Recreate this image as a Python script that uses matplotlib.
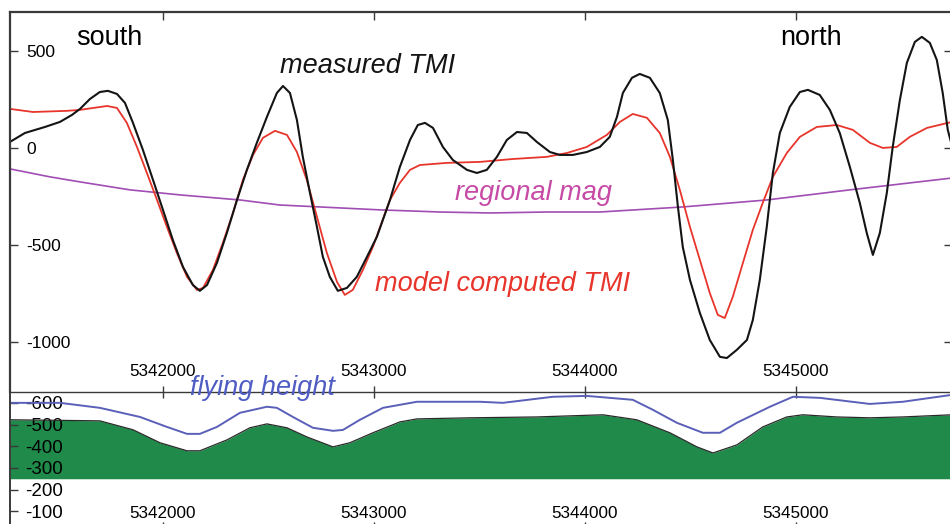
import matplotlib.pyplot as plt

plt.rcParams["font.family"] = ["Liberation Sans", "DejaVu Sans"]

# Northing (m) and total magnetic intensity (nT) along the profile
tmi_northing = [
    5341275, 5341346, 5341441, 5341512, 5341569, 5341607, 5341654, 5341701,
    5341739, 5341782, 5341820, 5341858, 5341905, 5341953, 5342000, 5342047,
    5342095, 5342142, 5342175, 5342209, 5342256, 5342303, 5342351, 5342398,
    5342445, 5342493, 5342540, 5342569, 5342602, 5342635, 5342663, 5342697,
    5342730, 5342758, 5342791, 5342829, 5342872, 5342919, 5342967, 5343014,
    5343076, 5343123, 5343171, 5343208, 5343242, 5343280, 5343327, 5343374,
    5343441, 5343488, 5343535, 5343583, 5343630, 5343678, 5343725, 5343772,
    5343834, 5343881, 5343943, 5344009, 5344071, 5344118, 5344152, 5344180,
    5344223, 5344260, 5344308, 5344355, 5344393, 5344417, 5344441, 5344464,
    5344498, 5344545, 5344592, 5344640, 5344673, 5344720, 5344768, 5344796,
    5344829, 5344862, 5344891, 5344924, 5344971, 5345019, 5345057, 5345113,
    5345161, 5345208, 5345256, 5345303, 5345336, 5345365, 5345398, 5345431,
    5345459, 5345493, 5345526, 5345564, 5345597, 5345635, 5345668, 5345696,
    5345720, 5345740,
]
tmi_measured = [
    31, 77, 108, 134, 170, 201, 252, 288,
    294, 278, 232, 129, -10, -165, -319, -474,
    -613, -706, -736, -706, -592, -438, -268, -113,
    26, 160, 283, 319, 283, 144, -46, -232,
    -407, -561, -664, -736, -721, -664, -561, -458,
    -268, -98, 41, 118, 129, 103, 5, -62,
    -113, -129, -113, -46, 41, 82, 77, 31,
    -21, -36, -36, -21, 5, 57, 160, 283,
    361, 381, 361, 283, 144, -62, -304, -510,
    -680, -850, -989, -1076, -1082, -1040, -989, -886,
    -680, -407, -129, 77, 211, 288, 299, 273,
    196, 77, -98, -283, -438, -551, -438, -232,
    5, 247, 438, 546, 572, 541, 453, 283,
    93, 10,
]

model_northing = [
    5341275, 5341384, 5341545, 5341607, 5341735, 5341782, 5341829, 5341877,
    5341924, 5341972, 5342019, 5342066, 5342114, 5342161, 5342190, 5342237,
    5342284, 5342332, 5342379, 5342427, 5342474, 5342531, 5342588, 5342635,
    5342682, 5342730, 5342777, 5342825, 5342862, 5342900, 5342948, 5342995,
    5343076, 5343123, 5343171, 5343218, 5343346, 5343502, 5343659, 5343820,
    5343915, 5344009, 5344104, 5344166, 5344227, 5344294, 5344355, 5344403,
    5344450, 5344498, 5344545, 5344592, 5344630, 5344663, 5344701, 5344749,
    5344796, 5344843, 5344891, 5344957, 5345019, 5345099, 5345194, 5345270,
    5345351, 5345412, 5345478, 5345540, 5345621, 5345740,
]
tmi_model = [
    201, 185, 191, 196, 216, 206, 129, 5,
    -129, -268, -407, -541, -664, -731, -721, -628,
    -489, -335, -165, -36, 52, 88, 67, -21,
    -165, -355, -541, -690, -757, -731, -628, -510,
    -268, -180, -113, -88, -77, -72, -57, -46,
    -26, 5, 67, 134, 175, 155, 77, -46,
    -216, -407, -577, -747, -860, -876, -767, -592,
    -422, -283, -149, -26, 57, 108, 118, 93,
    26, 0, 5, 57, 103, 134,
]

regional_northing = [
    5341275, 5341464, 5341607, 5341844, 5342081, 5342365, 5342554, 5342839,
    5343028, 5343313, 5343550, 5343820, 5344071, 5344464, 5344862, 5345256,
    5345740,
]
regional_mag = [
    -108, -149, -175, -216, -242, -268, -294, -309,
    -319, -330, -335, -330, -330, -304, -268, -216,
    -155,
]

# Flight path and ground surface (m)
flight_northing = [
    5341275, 5341512, 5341701, 5341891, 5342019, 5342114, 5342175, 5342256,
    5342365, 5342493, 5342540, 5342616, 5342711, 5342806, 5342853, 5342934,
    5343043, 5343204, 5343502, 5343611, 5343848, 5344009, 5344227, 5344322,
    5344436, 5344559, 5344640, 5344720, 5344877, 5344986, 5345114, 5345350,
    5345507, 5345740,
]
flying_height = [
    -600, -600, -577, -535, -489, -457, -457, -489,
    -554, -582, -577, -535, -485, -471, -475, -522,
    -577, -605, -605, -600, -628, -632, -614, -568,
    -508, -462, -462, -508, -582, -628, -623, -595,
    -605, -637,
]

ground_northing = [
    5341275, 5341701, 5341858, 5341986, 5342114, 5342175, 5342303, 5342412,
    5342493, 5342588, 5342682, 5342806, 5342886, 5342995, 5343123, 5343204,
    5343455, 5343772, 5344085, 5344246, 5344403, 5344531, 5344607, 5344720,
    5344843, 5344957, 5345033, 5345194, 5345350, 5345507, 5345740,
]
ground = [
    -522, -517, -476, -416, -379, -379, -429, -485,
    -503, -485, -443, -397, -416, -462, -512, -526,
    -531, -535, -545, -522, -462, -397, -369, -406,
    -489, -535, -545, -535, -531, -535, -545,
]
model_base = -250

tick_northing = [5342000, 5343000, 5344000, 5345000]
tmi_ticks = [500, 0, -500, -1000]
height_ticks = [-600, -500, -400, -300, -200, -100]

x_range = (5341275, 5345740)
spine_color = "#3a3a3a"
line_kw = dict(solid_joinstyle="round", solid_capstyle="round")

fig = plt.figure(figsize=(9.5, 5.24), dpi=100)
ax = fig.add_axes([0.0105, 0.2519, 0.9916, 0.7252])
ax2 = fig.add_axes([0.0105, -0.0076, 0.9916, 0.2595])

# --- magnetic profile ---
ax.plot(regional_northing, regional_mag, color="#a04db4", lw=1.2, **line_kw)
ax.plot(model_northing, tmi_model, color="#e8352c", lw=1.3, **line_kw)
ax.plot(tmi_northing, tmi_measured, color="#141414", lw=1.5, **line_kw)

ax.set_xlim(*x_range)
ax.set_ylim(-1257, 700)
ax.set_yticks(tmi_ticks)
ax.set_yticklabels([str(v) for v in tmi_ticks])
ax.set_xticks(tick_northing)
ax.set_xticklabels([str(v) for v in tick_northing])
ax.tick_params(axis="y", direction="in", length=6, width=1, color=spine_color,
               labelsize=12.5, pad=-12, right=True)
ax.tick_params(axis="x", direction="in", length=6, width=1, color=spine_color,
               labelsize=12.3, pad=-15, top=True, bottom=False)
for lab in ax.get_yticklabels():
    lab.set_horizontalalignment("left")
for lab in ax.get_xticklabels():
    lab.set_verticalalignment("center")
for side in ["left", "top"]:
    ax.spines[side].set_color(spine_color)
    ax.spines[side].set_linewidth(1.6)
ax.spines["bottom"].set_visible(False)
ax.spines["right"].set_color(spine_color)

ax.text(5341588, 567, "south", fontsize=19.5, va="center", ha="left")
ax.text(5344924, 567, "north", fontsize=19.5, va="center", ha="left")
ax.text(5342554, 422, "measured TMI", fontsize=19.5, style="italic",
        va="center", ha="left", color="#141414")
ax.text(5343384, -232, "regional mag", fontsize=19.5, style="italic",
        va="center", ha="left", color="#c64aa6")
ax.text(5343005, -700, "model computed TMI", fontsize=19.5, style="italic",
        va="center", ha="left", color="#e8352c")

# --- flight height and terrain ---
ax2.fill_between(ground_northing, ground, model_base, color="#1f8a4a", lw=0)
ax2.plot(ground_northing, ground, color="#2a2a2a", lw=0.9, **line_kw)
ax2.plot(flight_northing, flying_height, color="#5a5fb8", lw=1.4, **line_kw)

ax2.set_xlim(*x_range)
ax2.set_ylim(-23, -650)
ax2.set_yticks(height_ticks)
ax2.set_yticklabels([str(v) for v in height_ticks])
ax2.set_xticks(tick_northing)
ax2.set_xticklabels([str(v) for v in tick_northing])
ax2.tick_params(axis="y", direction="in", length=6, width=1, color=spine_color,
                labelsize=13.5, pad=-11)
ax2.tick_params(axis="x", direction="inout", length=9, width=1, color=spine_color,
                labelsize=12.3, pad=-15, top=True)
for lab in ax2.get_yticklabels():
    lab.set_horizontalalignment("left")
for lab in ax2.get_xticklabels():
    lab.set_verticalalignment("center")
for side in ["left", "top", "bottom"]:
    ax2.spines[side].set_color(spine_color)
    ax2.spines[side].set_linewidth(1.4)
ax2.spines["top"].set_linewidth(1.0)
ax2.spines["right"].set_visible(False)

ax2.text(5342128, -668, "flying height", fontsize=19.5, style="italic",
         va="center", ha="left", color="#4f5cc4", clip_on=False, zorder=5)

fig.savefig("out.png", dpi=100, facecolor="white")
